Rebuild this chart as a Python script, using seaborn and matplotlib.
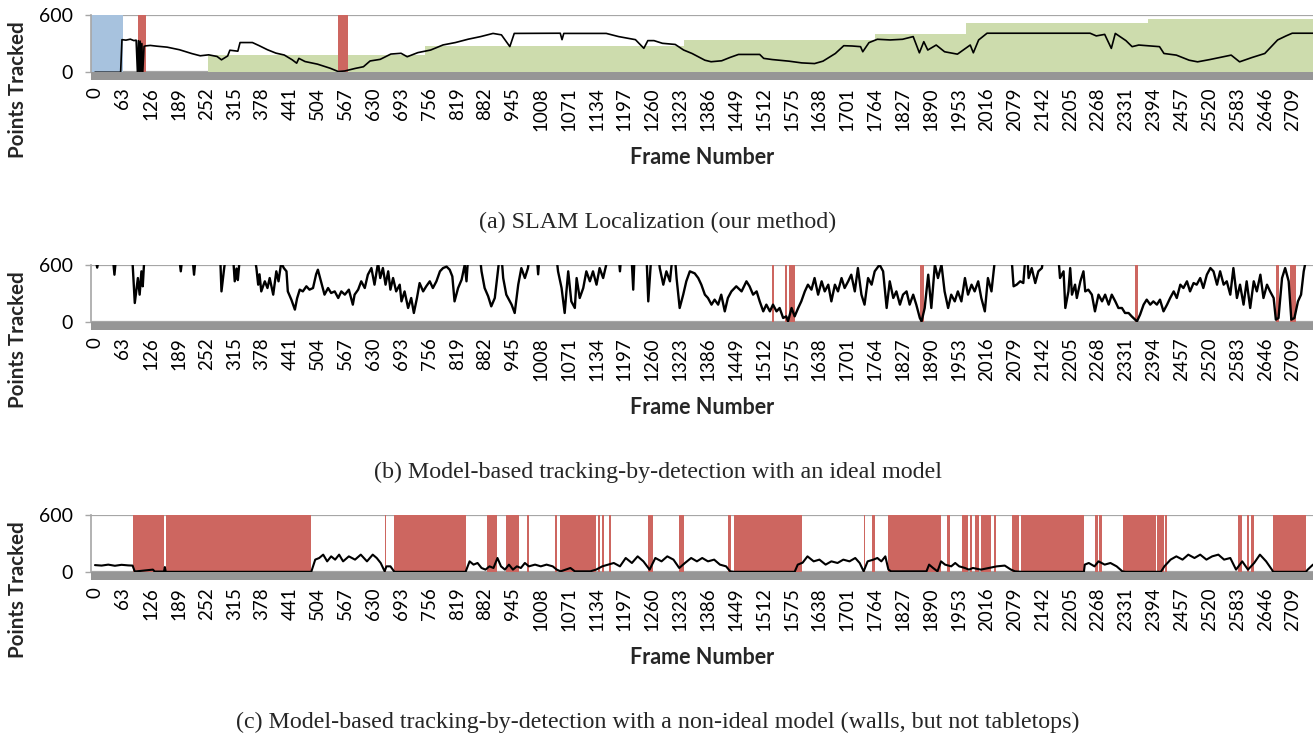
import numpy as np
import pandas as pd
import matplotlib
matplotlib.use("Agg")
import matplotlib.pyplot as plt
import seaborn as sns
from matplotlib.patches import Rectangle

# ---------------- data ----------------
tick_frames = list(range(0, 2710, 63))
x_end = 2754

# panel (a): SLAM localization
a_frames = [0, 58, 61, 70, 80, 88, 93, 96, 98, 100, 102, 104, 106, 108, 111, 114, 125, 140, 163, 191,
            219, 238, 257, 276, 286, 300, 305, 323, 328, 356, 371, 390, 409, 428, 446, 456, 461, 475,
            503, 532, 550, 565, 588, 607, 622, 645, 669, 692, 706, 730, 759, 787, 815, 844, 872, 900,
            919, 938, 948, 1014, 1052, 1056, 1060, 1108, 1156, 1184, 1222, 1241, 1250, 1264, 1283,
            1312, 1331, 1350, 1379, 1393, 1417, 1436, 1455, 1503, 1512, 1531, 1569, 1598, 1627, 1646,
            1674, 1693, 1712, 1731, 1736, 1750, 1769, 1798, 1826, 1850, 1864, 1874, 1883, 1902, 1921,
            1950, 1979, 1986, 1998, 2017, 2112, 2207, 2250, 2264, 2283, 2298, 2307, 2331, 2345, 2360,
            2407, 2417, 2445, 2474, 2493, 2521, 2550, 2569, 2588, 2616, 2645, 2674, 2693, 2707, 2754]
a_points = [0, 0, 340, 335, 345, 330, 335, 0, 330, 0, 325, 0, 300, 0, 270, 275, 280, 272, 262, 235,
            195, 172, 182, 165, 130, 170, 230, 220, 310, 310, 278, 235, 200, 180, 130, 95, 145, 112,
            85, 42, 8, 14, 40, 58, 118, 135, 190, 198, 162, 205, 232, 285, 310, 345, 372, 405,
            390, 268, 405, 407, 407, 340, 405, 405, 405, 372, 340, 250, 330, 330, 302,
            290, 232, 196, 126, 110, 120, 155, 186, 186, 145, 133, 116, 98, 91, 116,
            196, 277, 274, 267, 214, 309, 344, 337, 344, 372, 203, 319, 232, 284, 214,
            189, 284, 203, 337, 407, 407, 407, 407, 379, 395, 249, 405, 330, 267, 284,
            267, 196, 179, 126, 109, 133, 161, 179, 109, 154, 196, 337, 379, 407, 407]
a_map_frames = [256, 746, 1331, 1764, 1970, 2380]
a_map_levels = [180, 275, 335, 400, 515, 555]
a_init_span = [-9, 63]
a_fail_start = [98, 550]
a_fail_end = [116, 573]

# panel (b): ideal model (values above 600 are off the chart)
b_frames = [0, 5, 10, 40, 44, 48, 84, 90, 97, 101, 105, 108, 112, 190, 194, 198, 220, 224, 228, 283,
            286, 292, 296, 312, 316, 320, 323, 328, 360, 365, 369, 372, 376, 384, 390, 395, 403, 410,
            415, 421, 427, 433, 436, 444, 452, 457, 463, 470, 478, 485, 493, 500, 504, 508, 512, 519,
            527, 534, 542, 550, 557, 565, 574, 583, 587, 595, 602, 610, 617, 625, 632, 640, 645, 651,
            657, 663, 668, 674, 681, 689, 693, 700, 708, 715, 721, 728, 734, 742, 749, 757, 764, 772,
            780, 787, 795, 802, 808, 813, 821, 829, 836, 840, 844, 870, 874, 881, 889, 896, 904, 911,
            915, 919, 923, 930, 942, 949, 957, 964, 972, 979, 983, 999, 1002, 1005, 1043, 1047, 1055,
            1062, 1066, 1070, 1077, 1085, 1089, 1096, 1104, 1111, 1119, 1126, 1134, 1141, 1149, 1156,
            1160, 1184, 1187, 1190, 1213, 1217, 1220, 1247, 1251, 1254, 1258, 1274, 1277, 1285, 1292,
            1300, 1306, 1311, 1315, 1322, 1330, 1337, 1345, 1356, 1364, 1371, 1379, 1386, 1394, 1401,
            1409, 1416, 1424, 1431, 1439, 1450, 1462, 1473, 1480, 1488, 1496, 1503, 1511, 1518, 1526,
            1533, 1541, 1548, 1556, 1563, 1567, 1575, 1582, 1590, 1597, 1605, 1612, 1620, 1627, 1635,
            1643, 1650, 1658, 1665, 1673, 1680, 1688, 1695, 1703, 1710, 1718, 1725, 1733, 1740, 1748,
            1756, 1763, 1774, 1782, 1790, 1797, 1805, 1812, 1820, 1827, 1835, 1842, 1850, 1857, 1865,
            1869, 1876, 1884, 1891, 1899, 1906, 1914, 1921, 1929, 1936, 1944, 1951, 1959, 1967, 1974,
            1982, 1989, 1997, 2004, 2012, 2019, 2027, 2031, 2034, 2038, 2072, 2077, 2084, 2092, 2099,
            2104, 2108, 2111, 2118, 2126, 2133, 2141, 2145, 2178, 2182, 2190, 2194, 2201, 2205, 2209,
            2216, 2220, 2228, 2235, 2239, 2246, 2254, 2261, 2269, 2277, 2284, 2292, 2299, 2307, 2314,
            2322, 2329, 2337, 2344, 2352, 2356, 2363, 2371, 2378, 2386, 2393, 2401, 2408, 2416, 2424,
            2431, 2439, 2446, 2454, 2461, 2469, 2476, 2484, 2491, 2499, 2506, 2514, 2522, 2529, 2537,
            2544, 2552, 2559, 2567, 2574, 2582, 2589, 2597, 2604, 2612, 2620, 2627, 2635, 2642, 2650,
            2657, 2665, 2670, 2676, 2684, 2691, 2699, 2705, 2712, 2720, 2727, 2733, 2736, 2740, 2754]
b_points = [700, 570, 700, 700, 496, 700, 700, 201, 461, 288, 531, 375, 700, 700, 531, 700, 700, 496, 700, 700,
            322, 560, 700, 700, 427, 560, 440, 700, 700, 565, 392, 500, 322, 427, 357, 461, 288, 531,
            427, 620, 565, 531, 322, 236, 132, 250, 340, 322, 375, 340, 357, 500, 548, 480, 409, 288,
            357, 305, 322, 253, 322, 288, 340, 184, 288, 340, 427, 357, 496, 565, 392, 620, 461, 565,
            392, 531, 340, 461, 322, 392, 218, 322, 149, 253, 97, 253, 409, 322, 375, 427, 357, 427,
            531, 565, 580, 548, 478, 218, 357, 444, 600, 427, 700, 700, 531, 357, 271, 166, 253, 531,
            700, 700, 461, 288, 184, 97, 392, 565, 461, 565, 700, 700, 500, 700, 700, 531, 357,
            97, 322, 531, 218, 149, 461, 253, 357, 531, 427, 531, 392, 565, 461, 600,
            700, 700, 531, 700, 700, 340, 700, 700, 218, 427, 700, 700, 565, 392, 531,
            427, 700, 700, 461, 149, 288, 427, 531, 510, 461, 392, 288, 253, 184, 236,
            184, 288, 114, 253, 322, 375, 322, 427, 375, 288, 322, 218, 114, 184, 114,
            184, 114, 149, 45, 62, 10, 149, 62, 149, 218, 322, 392, 340, 461, 288,
            427, 322, 392, 218, 392, 322, 461, 357, 427, 496, 322, 565, 288, 184, 461,
            392, 531, 600, 531, 149, 427, 253, 322, 184, 288, 322, 184, 288, 184, 45,
            10, 149, 496, 149, 600, 461, 600, 322, 149, 288, 218, 322, 218, 461, 288,
            392, 322, 427, 253, 114, 461, 322, 496, 620, 700, 700, 375, 392, 427, 409,
            700, 700, 461, 565, 409, 531, 565, 700, 700, 461, 531, 149, 322, 565, 288,
            392, 253, 427, 531, 322, 340, 288, 114, 288, 218, 288, 184, 288, 218, 149,
            149, 97, 97, 62, 28, 10, 80, 184, 236, 184, 218, 184, 236, 114, 184,
            253, 322, 253, 392, 357, 427, 322, 409, 392, 461, 357, 496, 565, 531, 392,
            531, 392, 427, 288, 565, 253, 392, 184, 427, 149, 427, 322, 496, 253, 392,
            322, 253, 28, 45, 461, 565, 427, 28, 45, 218, 288, 531, 600, 700, 700]
b_fail_start = [1531, 1561, 1569, 1866, 2352, 2670, 2702]
b_fail_end = [1535, 1564, 1582, 1874, 2359, 2678, 2715]

# panel (c): non-ideal model
c_frames = [0, 15, 30, 45, 60, 75, 85, 90, 131, 135, 156, 158, 160, 489, 498, 507, 516, 525, 534, 543,
            552, 561, 574, 588, 601, 615, 628, 637, 646, 655, 659, 668, 677, 838, 847, 856, 865, 874,
            883, 892, 901, 910, 918, 927, 936, 945, 954, 963, 972, 981, 995, 1008, 1021, 1035, 1044,
            1053, 1075, 1085, 1120, 1133, 1147, 1160, 1173, 1187, 1200, 1214, 1227, 1240, 1254, 1267,
            1281, 1294, 1308, 1321, 1334, 1348, 1361, 1373, 1386, 1400, 1413, 1427, 1436, 1445, 1582,
            1589, 1600, 1611, 1625, 1638, 1652, 1665, 1679, 1692, 1706, 1719, 1729, 1738, 1747, 1760,
            1769, 1778, 1787, 1794, 1800, 1880, 1886, 1895, 1905, 1913, 1922, 1936, 1945, 1954, 1967,
            1976, 1985, 2003, 2021, 2039, 2057, 2071, 2080, 2094, 2236, 2238, 2247, 2260, 2269, 2283,
            2296, 2310, 2323, 2330, 2410, 2418, 2432, 2445, 2459, 2472, 2486, 2499, 2513, 2526, 2540,
            2553, 2567, 2580, 2594, 2607, 2621, 2634, 2648, 2661, 2664, 2738, 2742, 2754]
c_points = [75, 70, 80, 68, 78, 72, 70, 8, 28, 8, 8, 55, 5, 5, 132, 149, 184, 114, 166, 132,
            184, 114, 166, 132, 184, 114, 184, 149, 97, 10, 62, 62, 5, 5, 114, 80, 97, 45,
            28, 62, 45, 149, 62, 28, 80, 28, 62, 45, 97, 62, 80, 62, 80, 62, 28,
            10, 45, 10, 10, 28, 62, 80, 97, 62, 149, 97, 166, 114, 28, 149,
            114, 166, 132, 45, 97, 149, 114, 149, 114, 132, 80, 62, 10, 5, 5,
            80, 100, 166, 114, 132, 80, 114, 97, 132, 114, 149, 97, 10, 114, 132,
            149, 114, 166, 28, 10, 10, 80, 45, 10, 114, 80, 62, 97, 62, 45,
            28, 45, 28, 45, 62, 70, 28, 10, 5, 5, 80, 97, 62, 114, 80,
            97, 62, 10, 5, 5, 62, 132, 166, 132, 184, 149, 184, 132, 166, 184,
            132, 149, 28, 114, 28, 97, 184, 114, 28, 5, 5, 28, 80]
c_fail_start = [87, 160, 655, 677, 887, 930, 976, 1041, 1051, 1137, 1147, 1162, 1251, 1321, 1431, 1445,
                1738, 1757, 1794, 1927, 1960, 1978, 1990, 2004, 2032, 2074, 2094, 2262, 2271, 2325,
                2402, 2420, 2585, 2605, 2614, 2664]
c_fail_end = [156, 489, 658, 838, 910, 959, 981, 1045, 1133, 1142, 1151, 1166, 1262, 1332, 1437, 1598,
              1742, 1763, 1912, 1934, 1974, 1984, 1999, 2026, 2037, 2089, 2236, 2267, 2276, 2398,
              2416, 2424, 2594, 2609, 2621, 2738]

captions = ["(a) SLAM Localization (our method)",
            "(b) Model-based tracking-by-detection with an ideal model",
            "(c) Model-based tracking-by-detection with a non-ideal model (walls, but not tabletops)"]

# ---------------- styling ----------------
sns.set_theme(style="white")
plt.rcParams['font.family'] = ['Lato', 'DejaVu Sans']

RED = "#CD6660"
BLUE = "#A7C2DE"
GREEN = "#CDDCAD"
BAR = "#969696"
AXGRAY = "#A6A6A6"

W, H = 1315, 734
fig = plt.figure(figsize=(W / 100, H / 100), dpi=100)

panels = [
    dict(frames=a_frames, pts=a_points, fs=a_fail_start, fe=a_fail_end, lw=1.2),
    dict(frames=b_frames, pts=b_points, fs=b_fail_start, fe=b_fail_end, lw=1.7),
    dict(frames=c_frames, pts=c_points, fs=c_fail_start, fe=c_fail_end, lw=1.5),
]

ax_h = 57.6
for i, p in enumerate(panels):
    zero_y = 72.3 + 250 * i
    ax = fig.add_axes([91 / W, 1 - zero_y / H, 1222 / W, ax_h / H])
    ax.set_xlim(-9, x_end)
    ax.set_ylim(0, 600)

    if i == 0:
        ax.axvspan(a_init_span[0], a_init_span[1], color=BLUE, lw=0, zorder=1)
        edges = a_map_frames + [x_end]
        levels = a_map_levels + [a_map_levels[-1]]
        ax.fill_between(edges, levels, 0, step="post", color=GREEN, lw=0, zorder=1)
    for s, e in zip(p["fs"], p["fe"]):
        ax.axvspan(s, e, color=RED, lw=0, zorder=2)

    df = pd.DataFrame({"frame": p["frames"], "points": p["pts"]})
    sns.lineplot(data=df, x="frame", y="points", ax=ax, color="black", lw=p["lw"],
                 estimator=None, sort=False, zorder=3)

    # axes styling
    for side in ["top", "right", "bottom"]:
        ax.spines[side].set_visible(False)
    ax.spines["left"].set_color(AXGRAY)
    ax.spines["left"].set_linewidth(1.2)
    ax.set_yticks([0, 600])
    ax.set_yticklabels(["0", "600"], fontsize=14)
    ax.yaxis.grid(True, color=AXGRAY, lw=1.6)
    ax.set_axisbelow(True)
    ax.tick_params(axis="y", left=True, length=4, width=1, color=AXGRAY, pad=9, labelcolor="black")
    ax.set_xticks(tick_frames)
    ax.set_xticklabels([str(t) for t in tick_frames], rotation=90, fontsize=13.5)
    ax.tick_params(axis="x", bottom=True, length=0, pad=11, labelcolor="black")

    ax.add_patch(Rectangle((0, -7.5 / ax_h), 1, 7.5 / ax_h, transform=ax.transAxes,
                           clip_on=False, color=BAR, lw=0, zorder=4))

    ax.set_xlabel("Frame Number", fontsize=15.5, fontweight="bold")
    ax.xaxis.set_label_coords(0.5, -(147 - 72.3) / ax_h)
    ax.set_ylabel("Points Tracked", fontsize=14.8, fontweight="bold")
    ax.yaxis.set_label_coords(-(91 - 28) / 1222, -(90 - 72.3) / ax_h)

    fig.text(0.5, 1 - (222 + 250 * i) / H, captions[i], ha="center", va="center",
             family=["Liberation Serif"], fontsize=17.3)

fig.savefig("out.png", dpi=100)
